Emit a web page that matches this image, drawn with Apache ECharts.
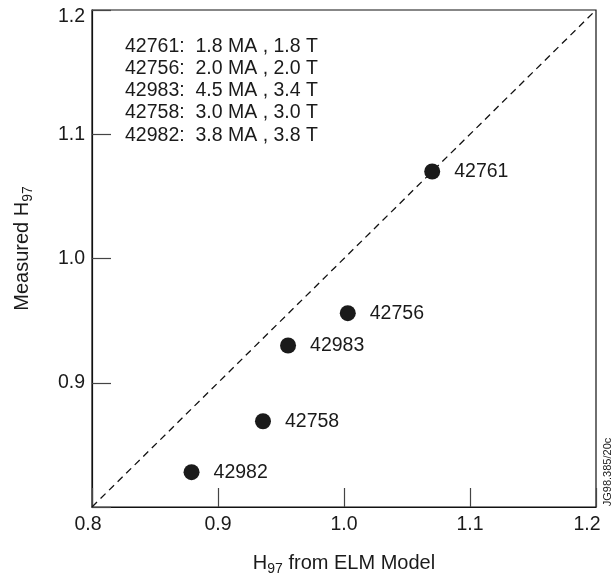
<!DOCTYPE html>
<html>
<head>
<meta charset="utf-8">
<script src="https://cdn.jsdelivr.net/npm/echarts@6/dist/echarts.min.js"></script>
<style>html,body{margin:0;padding:0;background:#fff}#c{width:616px;height:581px}</style>
</head>
<body>
<div id="c"></div>
<script>
var shots = ['42761', '42756', '42983', '42758', '42982'];
var modelH97 = [1.07, 1.003, 0.9556, 0.9357, 0.879];
var measuredH97 = [1.07, 0.956, 0.930, 0.869, 0.828];
var legendLines = [
  '42761:  1.8 MA , 1.8 T',
  '42756:  2.0 MA , 2.0 T',
  '42983:  4.5 MA , 3.4 T',
  '42758:  3.0 MA , 3.0 T',
  '42982:  3.8 MA , 3.8 T'
];
var axisMin = 0.8, axisMax = 1.2, axisStep = 0.1;
var diagonal = [[0.8, 0.8], [1.2, 1.2]];
var stamp = 'JG98.385/20c';

var FONT = '"Liberation Sans", Arial, sans-serif';
var TXT = '#1a1a1a';

var chart = echarts.init(document.getElementById('c'), null, {renderer: 'canvas'});

var points = shots.map(function (s, i) { return {name: s, value: [modelH97[i], measuredH97[i]]}; });

function near(a, b) { return Math.abs(a - b) < 1e-6; }

function axisCommon() {
  return {
    type: 'value', min: axisMin, max: axisMax, interval: axisStep,
    axisLine: {show: true, lineStyle: {color: '#111', width: 1.2}},
    axisTick: {show: true, inside: true, length: 19, lineStyle: {color: '#444', width: 1.2}},
    splitLine: {show: false},
    axisLabel: {color: TXT, fontFamily: FONT, fontSize: 19.5}
  };
}
var labelRich = {fontFamily: FONT, fontSize: 19.5, color: TXT};

var xAx = axisCommon();
xAx.name = '{n|H}{s|97}{n| from ELM Model}';
xAx.nameLocation = 'middle';
xAx.nameGap = 44;
xAx.nameTextStyle = {rich: {
  n: {fontFamily: FONT, fontSize: 20, color: TXT, lineHeight: 24},
  s: {fontFamily: FONT, fontSize: 14, color: TXT, lineHeight: 24, padding: [12, 0, 0, 0]}
}};
xAx.axisLabel.margin = 8;
xAx.axisLabel.formatter = function (v) {
  var t = v.toFixed(1);
  if (near(v, axisMax)) return '{r|' + t + '}';
  if (near(v, axisMin)) return '{l|' + t + '}';
  return t;
};
xAx.axisLabel.rich = {
  r: Object.assign({padding: [0, 18, 0, 0]}, labelRich),
  l: Object.assign({padding: [0, 8, 0, 0]}, labelRich)
};

var yAx = axisCommon();
yAx.name = '{n|Measured H}{s|97}';
yAx.nameLocation = 'middle';
yAx.nameGap = 58;
yAx.nameTextStyle = {padding: [0, 0, 0, 20], rich: {
  n: {fontFamily: FONT, fontSize: 20, color: TXT, lineHeight: 24},
  s: {fontFamily: FONT, fontSize: 14, color: TXT, lineHeight: 24, padding: [12, 0, 0, 0]}
}};
yAx.axisLabel.margin = 7;
yAx.axisLabel.formatter = function (v) {
  if (near(v, axisMin)) return '';
  var t = v.toFixed(1);
  if (near(v, axisMax)) return '{t|' + t + '}';
  return t;
};
yAx.axisLabel.rich = {
  t: Object.assign({padding: [14, 0, 0, 0]}, labelRich)
};

var option = {
  backgroundColor: '#fff',
  animation: false,
  grid: {left: 92, top: 10, width: 504, height: 501, show: true, borderColor: '#111', borderWidth: 1.2, backgroundColor: 'transparent'},
  xAxis: xAx,
  yAxis: yAx,
  graphic: [
    {
      type: 'text', left: 125, top: 35,
      style: {text: legendLines.join('\n'), font: '19.5px ' + FONT, fill: TXT, lineHeight: 22.3}
    },
    {
      type: 'text', x: 613, y: 472, rotation: Math.PI / 2,
      style: {text: stamp, font: '11px ' + FONT, fill: TXT, align: 'center', verticalAlign: 'bottom'}
    }
  ],
  series: [
    {
      type: 'line', data: diagonal, symbol: 'none', silent: true,
      lineStyle: {color: '#111', width: 1.3, type: [7, 5]}, z: 1
    },
    {
      type: 'scatter', data: points, symbol: 'circle', symbolSize: 16,
      itemStyle: {color: '#1a1a1a', opacity: 1},
      label: {show: true, position: 'right', distance: 14, formatter: '{b}', color: TXT, fontFamily: FONT, fontSize: 19.5},
      z: 3
    }
  ]
};
chart.setOption(option);
</script>
</body>
</html>
